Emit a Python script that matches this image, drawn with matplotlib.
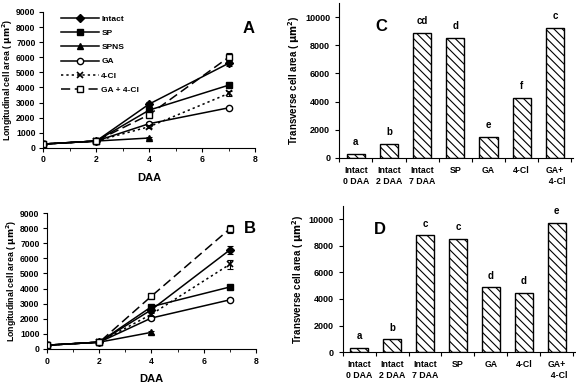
import matplotlib.pyplot as plt
from matplotlib.lines import Line2D
import numpy as np

plt.rcParams['font.family'] = 'Liberation Sans'
plt.rcParams['font.weight'] = 'bold'
plt.rcParams['axes.labelweight'] = 'bold'
plt.rcParams['hatch.linewidth'] = 0.8

# --- panel A / B data (DAA vs longitudinal cell area) ---
days = [0, 2, 4, 7]
days_spns = [0, 2, 4]

a_intact = [250, 450, 2900, 5600]
a_sp = [250, 450, 2500, 4150]
a_spns = [250, 450, 650]
a_ga = [250, 450, 1600, 2650]
a_cl = [250, 450, 1400, 3600]
a_gacl = [250, 450, 2200, 6000]
a_err_intact = [0, 0, 150, 150]
a_err_sp = [0, 0, 100, 100]
a_err_spns = [0, 0, 80]
a_err_ga = [0, 0, 80, 80]
a_err_cl = [0, 0, 100, 150]
a_err_gacl = [0, 0, 150, 250]

b_intact = [250, 450, 2600, 6550]
b_sp = [250, 450, 2800, 4100]
b_spns = [250, 450, 1100]
b_ga = [250, 450, 2050, 3250]
b_cl = [250, 450, 2300, 5600]
b_gacl = [250, 450, 3500, 7950]
b_err_intact = [0, 0, 150, 250]
b_err_sp = [0, 0, 100, 100]
b_err_spns = [0, 0, 80]
b_err_ga = [0, 0, 100, 100]
b_err_cl = [0, 0, 100, 300]
b_err_gacl = [0, 0, 150, 250]

# --- panel C / D data (transverse cell area) ---
bar_labels = ['Intact\n0 DAA', 'Intact\n2 DAA', 'Intact\n7 DAA', 'SP', 'GA', '4-Cl', 'GA+\n  4-Cl']
c_vals = [300, 1000, 8870, 8500, 1460, 4220, 9200]
c_letters = ['a', 'b', 'cd', 'd', 'e', 'f', 'c']
d_vals = [300, 950, 8800, 8520, 4890, 4460, 9720]
d_letters = ['a', 'b', 'c', 'c', 'd', 'd', 'e']

series_names = ['Intact', 'SP', 'SPNS', 'GA', '4-Cl', 'GA + 4-Cl']
styles = [
    dict(marker='D', ms=4, ls='-'),
    dict(marker='s', ms=5, ls='-'),
    dict(marker='^', ms=5, ls='-'),
    dict(marker='o', ms=4.5, mfc='white', ls='-'),
    dict(marker='x', ms=5, mew=1.2, ls=(0, (1.5, 2))),
    dict(marker='s', ms=5, mfc='white', ls=(0, (6, 3))),
]

fig = plt.figure(figsize=(5.76, 3.86), dpi=100)

def line_panel(ax, vals, errs, letter, tx, ty):
    for i, (v, e) in enumerate(zip(vals, errs)):
        xs = days_spns if len(v) == 3 else days
        ax.errorbar(xs, v, yerr=e, fmt='none', ecolor='black', capsize=2, elinewidth=0.8, capthick=0.8)
        ax.plot(xs, v, color='black', lw=1.1, mec='black', **styles[i])
    ax.set_xlim(0, 8)
    ax.set_ylim(0, 9000)
    ax.set_xticks([0, 2, 4, 6, 8])
    ax.set_xticks([1, 3, 5, 7], minor=True)
    ax.set_yticks(np.arange(0, 9001, 1000))
    ax.spines['top'].set_visible(False)
    ax.spines['right'].set_visible(False)
    ax.tick_params(labelsize=6.2, length=3, direction='out', pad=2.5)
    ax.tick_params(which='minor', length=2)
    ax.set_xlabel('DAA', fontsize=8, labelpad=6)
    ax.set_ylabel('Longitudinal cell area ( $\\mathbf{\\mu m^2}$)', fontsize=6.3, labelpad=1)
    ax.text(tx, ty, letter, transform=ax.transAxes, fontsize=12, fontweight='bold', ha='center', va='center')

def bar_panel(ax, vals, letters, letter, tx, ty):
    x = np.arange(len(vals))
    ax.bar(x, vals, width=0.55, color='white', edgecolor='black', hatch='\\\\\\\\', lw=1.0)
    for xi, v, t in zip(x, vals, letters):
        ax.text(xi, v + 500, t, ha='center', va='bottom', fontsize=7, fontweight='bold')
    ax.set_xlim(-0.5, len(vals) - 0.45)
    ax.set_ylim(0, 11000)
    ax.set_yticks(np.arange(0, 10001, 2000))
    ax.set_xticks(np.arange(len(vals) + 1) - 0.5)
    ax.set_xticklabels([])
    ax.set_xticks(x, minor=True)
    ax.set_xticklabels(bar_labels, minor=True, fontsize=6.3)
    ax.tick_params(axis='x', which='minor', length=0, pad=6)
    ax.tick_params(axis='x', which='major', length=3)
    ax.tick_params(axis='y', labelsize=6.5, length=3)
    ax.spines['top'].set_visible(False)
    ax.spines['right'].set_visible(False)
    ax.set_ylabel('Transverse cell area ( $\\mathbf{\\mu m^2}$)', fontsize=7, labelpad=2)
    ax.text(tx, ty, letter, transform=ax.transAxes, fontsize=12, fontweight='bold', ha='center', va='center')

axA = fig.add_axes([0.075, 0.617, 0.368, 0.352])
line_panel(axA, [a_intact, a_sp, a_spns, a_ga, a_cl, a_gacl],
           [a_err_intact, a_err_sp, a_err_spns, a_err_ga, a_err_cl, a_err_gacl], 'A', 0.97, 0.88)
handles = [Line2D([], [], color='black', lw=1.1, mec='black', **s) for s in styles]
axA.legend(handles, series_names, loc='upper left', bbox_to_anchor=(0.05, 1.03), frameon=False, fontsize=6,
           handlelength=4.5, labelspacing=0.75, handletextpad=0.3)

axB = fig.add_axes([0.082, 0.096, 0.362, 0.352])
line_panel(axB, [b_intact, b_sp, b_spns, b_ga, b_cl, b_gacl],
           [b_err_intact, b_err_sp, b_err_spns, b_err_ga, b_err_cl, b_err_gacl], 'B', 0.97, 0.89)

axC = fig.add_axes([0.589, 0.591, 0.406, 0.401])
bar_panel(axC, c_vals, c_letters, 'C', 0.18, 0.85)

axD = fig.add_axes([0.595, 0.088, 0.403, 0.378])
bar_panel(axD, d_vals, d_letters, 'D', 0.16, 0.84)

fig.savefig('out.png', dpi=100)
